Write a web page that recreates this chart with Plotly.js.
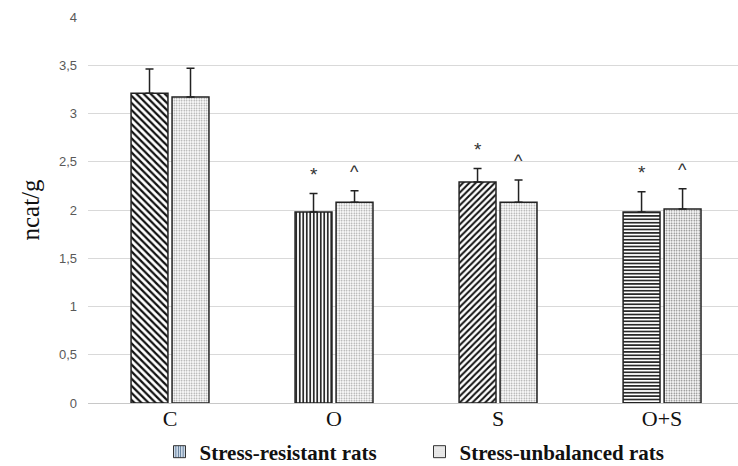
<!DOCTYPE html>
<html>
<head>
<meta charset="utf-8">
<script src="https://cdn.plot.ly/plotly-3.0.1.min.js"></script>
<style>html,body{margin:0;padding:0;background:#fff;}#chart{width:738px;height:466px;}</style>
</head>
<body>
<div id="chart"></div>
<script>
// Data
var categories = ["C", "O", "S", "O+S"];
var seriesNames = ["Stress-resistant rats", "Stress-unbalanced rats"];
var resistantValues = [3.21, 1.98, 2.29, 1.98];
var resistantErrors = [0.25, 0.19, 0.14, 0.21];
var unbalancedValues = [3.17, 2.08, 2.08, 2.01];
var unbalancedErrors = [0.30, 0.12, 0.23, 0.21];
var resistantMarks = ["", "*", "*", "*"];
var unbalancedMarks = ["", "^", "^", "^"];
var yTickVals = [0, 0.5, 1, 1.5, 2, 2.5, 3, 3.5, 4];
var yTickText = ["0", "0,5", "1", "1,5", "2", "2,5", "3", "3,5", "4"];

var zeros = categories.map(function(){return 0;});

var trace1 = {
  type: "bar", x: categories, y: resistantValues, name: seriesNames[0], showlegend: false,
  marker: {
    color: "#ffffff",
    line: {color: "#222222", width: 1.5},
    pattern: {shape: ["\\", "|", "/", "-"], fgcolor: "#111111", bgcolor: "#ffffff",
              size: [5, 3.5, 4.5, 3.4], solidity: 0.45}
  },
  error_y: {type: "data", symmetric: false, array: resistantErrors, arrayminus: zeros,
            color: "#222222", thickness: 1.5, width: 4}
};
var trace2 = {
  type: "bar", x: categories, y: unbalancedValues, name: seriesNames[1], showlegend: false,
  marker: {
    color: "#ffffff",
    line: {color: "#222222", width: 1.5},
    pattern: {shape: ".", fgcolor: ["#999999", "#999999", "#999999", "#707070"], bgcolor: "#ffffff",
              size: 2.5, solidity: 0.3}
  },
  error_y: {type: "data", symmetric: false, array: unbalancedErrors, arrayminus: zeros,
            color: "#222222", thickness: 1.5, width: 4}
};
// legend-only entries
var leg1 = {
  type: "bar", x: [5], y: [0], name: seriesNames[0], xaxis: "x2", yaxis: "y2",
  marker: {color: "#ffffff", line: {color: "#333333", width: 1},
           pattern: {shape: "|", fgcolor: "#4a6a8a", bgcolor: "#dce6f2", size: 3, solidity: 0.4}}
};
var leg2 = {
  type: "bar", x: [5], y: [0], name: seriesNames[1], xaxis: "x2", yaxis: "y2",
  marker: {color: "#ffffff", line: {color: "#333333", width: 1},
           pattern: {shape: ".", fgcolor: "#999999", bgcolor: "#ffffff", size: 2.5, solidity: 0.3}}
};

var annotations = [];
categories.forEach(function(c, i){
  if (resistantMarks[i]) annotations.push({xref: "x", yref: "y", x: i - 0.125,
    y: resistantValues[i] + resistantErrors[i], yshift: 19, text: resistantMarks[i], showarrow: false,
    font: {family: "Liberation Sans, Arial", size: 19, color: "#333333"}});
  if (unbalancedMarks[i]) annotations.push({xref: "x", yref: "y", x: i + 0.125,
    y: unbalancedValues[i] + unbalancedErrors[i], yshift: 19, text: unbalancedMarks[i], showarrow: false,
    font: {family: "Liberation Sans, Arial", size: 18, color: "#333333"}});
});

var layout = {
  width: 738, height: 466,
  margin: {l: 88, r: 0, t: 17, b: 63, pad: 0, autoexpand: false},
  paper_bgcolor: "#ffffff", plot_bgcolor: "#ffffff",
  barmode: "group", bargap: 0.5, bargroupgap: 0.1,
  showlegend: true,
  legend: {orientation: "h", x: 0.11, xanchor: "left", y: -0.127, yanchor: "middle",
           font: {family: "Liberation Serif, Times New Roman", size: 21, color: "#111111", weight: "bold"},
           itemwidth: 30, entrywidth: 215, traceorder: "normal"},
  xaxis: {
    type: "category", range: [-0.5, 3.463], showgrid: false, zeroline: false,
    showline: false, ticks: "", automargin: false,
    tickfont: {family: "Liberation Serif, Times New Roman", size: 22, color: "#111111"}
  },
  yaxis: {
    range: [0, 4], tickvals: yTickVals, ticktext: yTickText, ticks: "", automargin: false,
    showgrid: true, gridcolor: "#d9d9d9", gridwidth: 1, zeroline: true, zerolinecolor: "#c8c8c8", zerolinewidth: 1,
    showline: false, ticklabelstandoff: 10,
    tickfont: {family: "Liberation Sans, Arial", size: 13, color: "#595959"},
    title: {text: "ncat/g", standoff: 12, font: {family: "Liberation Serif, Times New Roman", size: 25, color: "#111111"}}
  },
  xaxis2: {overlaying: "x", range: [0, 1], visible: false},
  yaxis2: {overlaying: "y", range: [0, 1], visible: false},
  annotations: annotations
};

Plotly.newPlot("chart", [trace1, trace2, leg1, leg2], layout, {staticPlot: true, displayModeBar: false});
</script>
</body>
</html>
